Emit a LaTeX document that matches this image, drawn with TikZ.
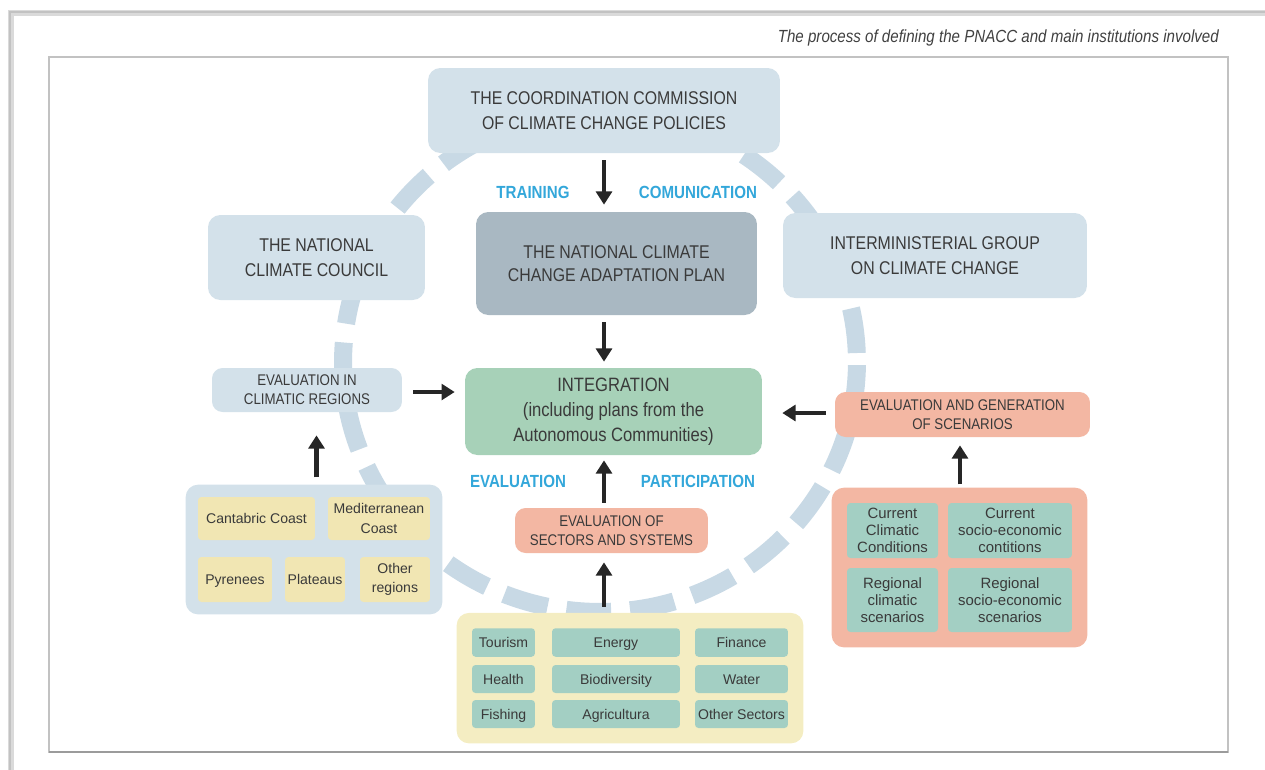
\documentclass[tikz,border=0pt]{standalone}
\usepackage{fontspec}
\setmainfont{Liberation Sans}[FakeStretch=0.86]
\newfontfamily\celdaFuente{Liberation Sans}
\usetikzlibrary{arrows.meta,positioning,calc,fit,backgrounds}
\definecolor{tinta}{HTML}{3A3A3A}
\definecolor{leyenda}{HTML}{404040}
\definecolor{marco}{HTML}{C2C2C2}
\definecolor{azulClaro}{HTML}{D3E1EA}
\definecolor{azulAnillo}{HTML}{C8D9E5}
\definecolor{grisAzul}{HTML}{A9B8C2}
\definecolor{verde}{HTML}{A7D1B8}
\definecolor{salmon}{HTML}{F3B7A3}
\definecolor{amarillo}{HTML}{F4EDC2}
\definecolor{amarilloCelda}{HTML}{F1E6B3}
\definecolor{verdeCelda}{HTML}{A3CFC3}
\definecolor{cian}{HTML}{33A7DA}

\begin{document}
\begin{tikzpicture}[x=0.02cm,y=-0.02cm,
    caja/.style={rounded corners=7pt,align=center,text=tinta,
                 font=\fontsize{10.5}{14.5}\selectfont},
    cajita/.style={rounded corners=6pt,align=center,text=tinta,
                   font=\fontsize{8.8}{10.8}\selectfont},
    celda/.style={rounded corners=2pt,align=center,text=tinta,inner sep=1pt,
                  font=\celdaFuente\fontsize{8}{11}\selectfont},
    celdaFila/.style={celda,text height=1.6ex,text depth=0.45ex},
    grupo/.style={rounded corners=7pt},
    etiqueta/.style={text=cian,font=\bfseries\fontsize{10}{12}\selectfont},
    flecha/.style={-{Triangle[width=9pt,length=7.5pt]},line width=2.6pt,draw=black!85}]
  \useasboundingbox (0,0) rectangle (1265,769);
  % page frames
  \draw[marco!60,line width=3pt] (11,790) |- (1290,13);
  \draw[marco,line width=1pt] (10,790) |- (1290,12);
  \draw[marco,line width=1.2pt] (49,57) rectangle (1228,752);
  \draw[marco!80!black,line width=1.5pt] (49,752) -- (1228,752);
  \node[anchor=base east,text=leyenda,font=\itshape\fontsize{10}{12}\selectfont] (titulo) at (1225,42)
    {The process of defining the PNACC and main institutions involved};
  % dashed ring behind the boxes
  \begin{scope}[on background layer]
    \draw[azulAnillo,line width=0.36cm,dash pattern=on 0.9cm off 0.38cm,dash phase=1.1cm]
      (600,362) ellipse [x radius=5.14cm,y radius=5.0cm];
  \end{scope}
  % institutions
  \node[caja,fill=azulClaro,minimum width=7.04cm,minimum height=1.7cm] (coord) at (604,110.5)
    {THE COORDINATION COMMISSION\\OF CLIMATE CHANGE POLICIES};
  \node[caja,fill=grisAzul,minimum width=5.62cm,minimum height=2.06cm,
        font=\fontsize{10.5}{13}\selectfont] (plan) at (616.5,263.5)
    {THE NATIONAL CLIMATE\\CHANGE ADAPTATION PLAN};
  \node[caja,fill=azulClaro,minimum width=4.34cm,minimum height=1.7cm] (consejo) at (316.5,257.5)
    {THE NATIONAL\\CLIMATE COUNCIL};
  \node[caja,fill=azulClaro,minimum width=6.08cm,minimum height=1.7cm] (grupoInter) at (935,255.5)
    {INTERMINISTERIAL GROUP\\ON CLIMATE CHANGE};
  \node[caja,fill=verde,minimum width=5.94cm,minimum height=1.74cm,
        font=\fontsize{11}{14.2}\selectfont] (integ) at (613.5,411.5)
    {INTEGRATION\\(including plans from the\\Autonomous Communities)};
  % evaluations
  \node[cajita,fill=azulClaro,minimum width=3.8cm,minimum height=0.88cm] (evReg) at (307,390)
    {EVALUATION IN\\CLIMATIC REGIONS};
  \node[cajita,fill=salmon,minimum width=5.1cm,minimum height=0.9cm] (evEsc) at (962.5,414.5)
    {EVALUATION AND GENERATION\\OF SCENARIOS};
  \node[cajita,fill=salmon,minimum width=3.86cm,minimum height=0.9cm] (evSec) at (611.5,530.5)
    {EVALUATION OF\\SECTORS AND SYSTEMS};
  % blue labels
  \node[etiqueta] (formacion) at (533,192) {TRAINING};
  \node[etiqueta] (comunic) at (698,192) {COMUNICATION};
  \node[etiqueta] (evaluac) at (518,481) {EVALUATION};
  \node[etiqueta] (particip) at (698,481) {PARTICIPATION};
  % sectors
  \node[celdaFila,fill=verdeCelda,minimum width=1.26cm,minimum height=0.57cm] (turismo) at (503.5,642.5) {Tourism};
  \node[celdaFila,fill=verdeCelda,minimum width=2.56cm,minimum height=0.57cm] (energia) at (616,642.5) {Energy};
  \node[celdaFila,fill=verdeCelda,minimum width=1.86cm,minimum height=0.57cm] (finanzas) at (741.5,642.5) {Finance};
  \node[celdaFila,fill=verdeCelda,minimum width=1.26cm,minimum height=0.56cm] (salud) at (503.5,679) {Health};
  \node[celdaFila,fill=verdeCelda,minimum width=2.56cm,minimum height=0.56cm] (biodiv) at (616,679) {Biodiversity};
  \node[celdaFila,fill=verdeCelda,minimum width=1.86cm,minimum height=0.56cm] (agua) at (741.5,679) {Water};
  \node[celdaFila,fill=verdeCelda,minimum width=1.26cm,minimum height=0.56cm] (pesca) at (503.5,714) {Fishing};
  \node[celdaFila,fill=verdeCelda,minimum width=2.56cm,minimum height=0.56cm] (agricul) at (616,714) {Agricultura};
  \node[celdaFila,fill=verdeCelda,minimum width=1.86cm,minimum height=0.56cm] (otrosSec) at (741.5,714) {Other Sectors};
  % regions
  \node[celdaFila,fill=amarilloCelda,minimum width=2.34cm,minimum height=0.86cm] (cantab) at (256.5,518.5) {Cantabric Coast};
  \node[celda,fill=amarilloCelda,minimum width=2.04cm,minimum height=0.86cm] (medit) at (379,518.5) {Mediterranean\\Coast};
  \node[celdaFila,fill=amarilloCelda,minimum width=1.48cm,minimum height=0.9cm] (pirin) at (235,579.5) {Pyrenees};
  \node[celdaFila,fill=amarilloCelda,minimum width=1.2cm,minimum height=0.9cm] (meseta) at (315,579.5) {Plateaus};
  \node[celda,fill=amarilloCelda,minimum width=1.4cm,minimum height=0.9cm] (otrasReg) at (395,579.5) {Other\\regions};
  % scenarios
  \begin{scope}[celda/.append style={font=\celdaFuente\fontsize{8.5}{9.6}\selectfont}]
    \node[celda,fill=verdeCelda,minimum width=1.82cm,minimum height=1.1cm] (clima) at (892.5,530.5)
      {Current\\Climatic\\Conditions};
    \node[celda,fill=verdeCelda,minimum width=2.48cm,minimum height=1.1cm] (socio) at (1010,530.5)
      {Current\\socio-economic\\contitions};
    \node[celda,fill=verdeCelda,minimum width=1.82cm,minimum height=1.28cm] (climaReg) at (892.5,600)
      {Regional\\climatic\\scenarios};
    \node[celda,fill=verdeCelda,minimum width=2.48cm,minimum height=1.28cm] (socioReg) at (1010,600)
      {Regional\\socio-economic\\scenarios};
  \end{scope}
  \begin{scope}[on background layer]
    \node[grupo,fill=amarillo,fit=(turismo)(otrosSec),inner sep=0.3cm] (sectores) {};
    \node[grupo,fill=azulClaro,fit=(cantab)(otrasReg),inner sep=0.24cm] (regiones) {};
    \node[grupo,fill=salmon,fit=(clima)(socioReg),inner sep=0.3cm] (escenarios) {};
  \end{scope}
  % arrows
  \draw[flecha,shorten <=0.14cm,shorten >=0.14cm] (coord.south) -- (coord.south |- plan.north);
  \draw[flecha,shorten <=0.14cm,shorten >=0.12cm] (plan.south -| coord.south) -- (integ.north -| coord.south);
  \draw[flecha,shorten <=0.22cm,shorten >=0.2cm] (evReg.east |- 0,392) -- (integ.west |- 0,392);
  \draw[flecha,shorten <=0.18cm,shorten >=0.4cm] (evEsc.west |- 0,413) -- (integ.east |- 0,413);
  \draw[flecha,shorten <=0.1cm,shorten >=0.1cm] (evSec.north -| coord.south) -- (integ.south -| coord.south);
  \draw[flecha,shorten <=0.12cm,shorten >=0.18cm] (sectores.north -| coord.south) -- (evSec.south -| coord.south);
  \draw[flecha,shorten <=0.14cm,shorten >=0.46cm] (regiones.north -| consejo.south) -- (evReg.south -| consejo.south);
  \draw[flecha,shorten <=0.06cm,shorten >=0.16cm] (escenarios.north -| 960,0) -- (evEsc.south -| 960,0);
\end{tikzpicture}
\end{document}
